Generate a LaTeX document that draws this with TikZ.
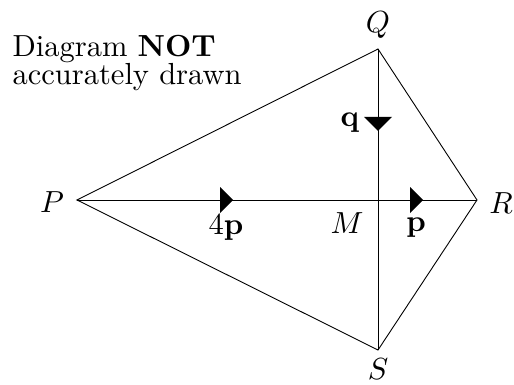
\documentclass[tikz,border=0pt]{standalone}
\usetikzlibrary{calc}
\begin{document}
\begin{tikzpicture}[x=1pt,y=-1pt,
  edge/.style={line width=0.9pt,black},
  lbl/.style={font=\fontsize{10}{12}\selectfont,inner sep=0pt,scale=3.05},
  note/.style={font=\fontsize{10}{12}\selectfont,inner sep=0pt,anchor=base west,scale=3.05},
  head/.style={fill=black}]
\useasboundingbox (0,0) rectangle (514,385);
\coordinate (P) at (77,200);
\coordinate (R) at (477,200);
\coordinate (Q) at (378,49);
\coordinate (S) at (378,350);
\coordinate (M) at (378,200);
\draw[edge] (P) -- (Q) -- (R) -- (S) -- cycle;
\draw[edge] (P) -- (R);
\draw[edge] (Q) -- (S);
% arrow heads
\fill[head] ($(P)!0.39!(R)$) -- ++(-13,-13) -- ++(0,26) -- cycle;
\fill[head] ($(P)!0.865!(R)$) -- ++(-13,-13) -- ++(0,26) -- cycle;
\fill[head] ($(Q)!0.272!(S)$) -- ++(-14,-14) -- ++(28,0) -- cycle;
% labels
\node[lbl] (lQ) at (378,25) {$Q$};
\node[lbl] (lS) at (378,369) {$S$};
\node[lbl] (lP) at (52,202) {$P$};
\node[lbl] (lR) at (501,203) {$R$};
\node[lbl] (lM) at (347,223) {$M$};
\node[lbl] (l4p) at (226,228) {$4\mathbf{p}$};
\node[lbl] (lp) at (416,228) {$\mathbf{p}$};
\node[lbl] (lq) at (350,123) {$\mathbf{q}$};
\node[note] (t1) at (12,57) {Diagram \textbf{NOT}};
\node[note] (t2) at (12,85) {accurately drawn};
\end{tikzpicture}
\end{document}
